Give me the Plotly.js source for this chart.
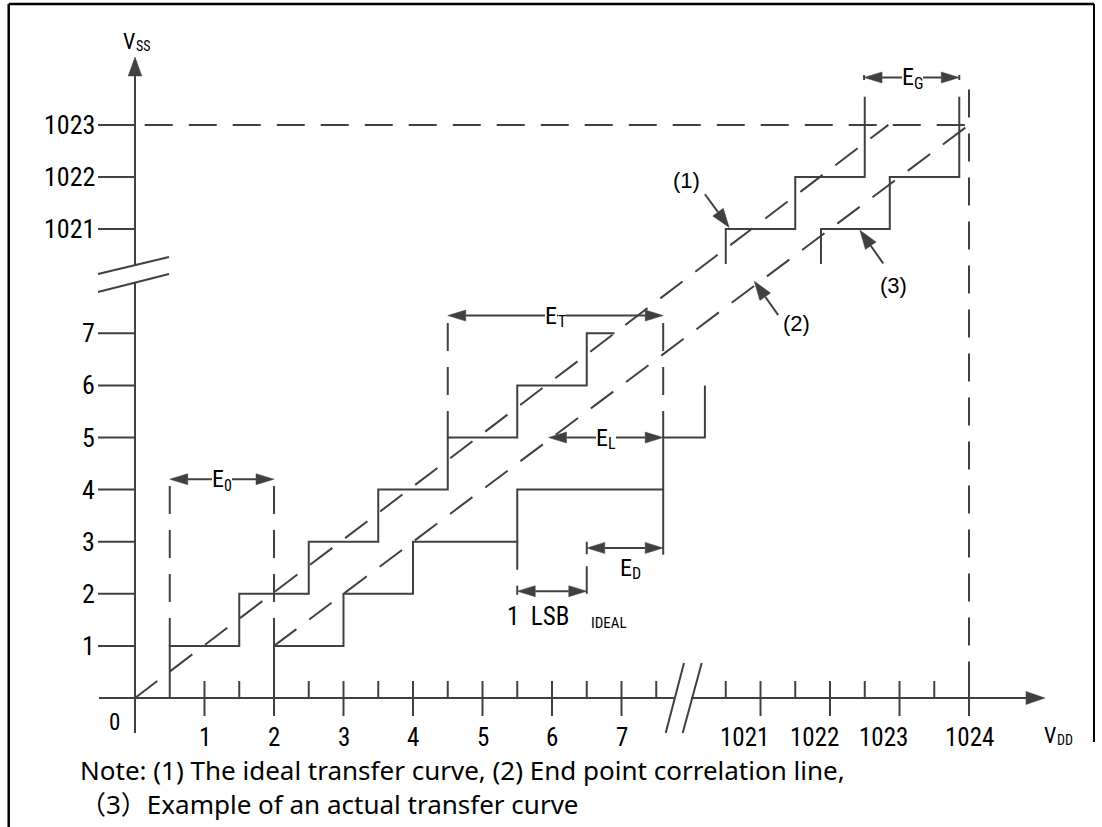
<!DOCTYPE html>
<html><head><meta charset="utf-8">
<script src="https://cdn.plot.ly/plotly-3.0.1.min.js"></script>
<style>html,body{margin:0;padding:0;background:#fff}#chart{width:1102px;height:827px}</style>
</head><body><div id="chart"></div>
<script>
// ---------------- data (ADC code units; values >= 1020 lie beyond the axis break) ----------------
const xTickValues = [1, 2, 3, 4, 5, 6, 7, 1021, 1022, 1023, 1024];
const xTickLabels = ['1', '2', '3', '4', '5', '6', '7', '1021', '1022', '1023', '1024'];
const xHalfTicks  = [1.5, 2.5, 3.5, 4.5, 5.5, 6.5, 7.5, 1020.5, 1021.5, 1022.5, 1023.5];
const yTickValues = [1, 2, 3, 4, 5, 6, 7, 1021, 1022, 1023];
const yTickLabels = ['1', '2', '3', '4', '5', '6', '7', '1021', '1022', '1023'];

// (1) ideal transfer curve
const idealStepX    = [0.5, 0.5, 1.5, 1.5, 2.5, 2.5, 3.5, 3.5, 4.5, 4.5, 5.5, 5.5, 6.5, 6.5, 6.9];
const idealStepY    = [0, 1, 1, 2, 2, 3, 3, 4, 4, 5, 5, 6, 6, 7, 7];
const idealStepTopX = [1020.5, 1020.5, 1021.5, 1021.5, 1022.5, 1022.5];
const idealStepTopY = [1020.33, 1021, 1021, 1022, 1022, 1023.54];
// (3) actual transfer curve
const actualStepX    = [2, 2, 3, 3, 4, 4, 5.5, 5.5, 7.6, 7.6, 8.2, 8.2];
const actualStepY    = [0, 1, 1, 2, 2, 3, 3, 4, 4, 5, 5, 6];
const actualStepTopX = [1021.87, 1021.87, 1022.86, 1022.86, 1023.86, 1023.86];
const actualStepTopY = [1020.33, 1021, 1021, 1022, 1022, 1023.54];
// dashed straight lines: ideal line and (2) end point correlation line
const idealLineX    = [0, 1022.84];
const idealLineY    = [0, 1023];
const endpointLineX = [2, 1024];
const endpointLineY = [1, 1023];

// error brackets
const errorMain  = ['E', 'E', 'E', 'E', 'E'];
const errorSub   = ['0', 'T', 'L', 'D', 'G'];
const errorFrom  = [0.5, 4.5, 5.95, 6.5, 1022.49];
const errorTo    = [2.0, 7.6, 7.6, 7.6, 1023.86];
const errorLevel = [4.2, 7.34, 5.0, 2.88, 1023.91];
// ideal LSB bracket
const lsbText  = '1\u00a0\u00a0LSB';
const lsbSub   = 'IDEAL';
const lsbFrom  = 5.5;
const lsbTo    = 6.5;
const lsbLevel = 2.05;

// pointer labels
const pointerLabels = ['(1)', '(2)', '(3)'];
const pointerTipX   = [1020.55, 1020.91, 1022.43];
const pointerTipY   = [1021.03, 1020.0, 1020.98];

const noteLines = ['Note: (1) The ideal transfer curve, (2) End point correlation line,',
                   '\uff083\uff09Example of an actual transfer curve'];

// ---------------- geometry helpers ----------------
const W = 1102, H = 827, ORX = 135, ORY = 698, XPX = 69.5, YPX = 52.1;
const pos = v => (v >= 100 ? v - 1012 : v);
const LINE = '#404040';
const LBL_FONT = '"Liberation Sans Narrow", "Arial Narrow", "Roboto Condensed", "DejaVu Sans Condensed", sans-serif';
const PTR_FONT = '"Liberation Sans", Arial, sans-serif';
const NOTE_FONT = '"Noto Sans", "Noto Sans CJK SC", sans-serif';
const px2x = p => p / XPX, px2y = p => p / YPX;

const solid = {x: [], y: []}, dashed = {x: [], y: []}, heads = {x: [], y: []};
function polyC(t, xs, ys) { xs.forEach((v, i) => { t.x.push(pos(v)); t.y.push(pos(ys[i])); }); t.x.push(null); t.y.push(null); }
function polyP(t, xs, ys) { xs.forEach((v, i) => { t.x.push(v); t.y.push(ys[i]); }); t.x.push(null); t.y.push(null); }
function head(tx, ty, fx, fy, len, hw) {
  const TX = tx * XPX, TY = ty * YPX, FX = fx * XPX, FY = fy * YPX;
  const d = Math.hypot(TX - FX, TY - FY), ux = (TX - FX) / d, uy = (TY - FY) / d;
  const bx = TX - ux * len, by = TY - uy * len, px = -uy, py = ux;
  heads.x.push(tx, (bx + px * hw) / XPX, (bx - px * hw) / XPX, tx, null);
  heads.y.push(ty, (by + py * hw) / YPX, (by - py * hw) / YPX, ty, null);
  return [bx / XPX, by / YPX];
}
const annotations = [];
function label(x, y, text, size, o) {
  annotations.push(Object.assign({x: x, y: y, text: text, showarrow: false, xanchor: 'center', yanchor: 'middle',
    borderpad: 0, borderwidth: 0, font: {family: LBL_FONT, size: size, color: '#000'}}, o || {}));
}
// main text right-aligned at xs, subscript left-aligned at xs and dropped
function subLabel(xs, y, main, sub, size, subSize, drop, bg, dy) {
  const extra = bg ? {bgcolor: '#ffffff'} : {};
  label(xs, y, main, size, Object.assign({xanchor: 'right', xshift: 0, yshift: dy || 0}, extra));
  label(xs, y, sub, subSize, Object.assign({xanchor: 'left', xshift: 0.5, yshift: (dy || 0) - drop}, extra));
}

// ---------------- axes ----------------
const xArrowTip = px2x(910), yArrowTip = px2y(641);
polyP(solid, [px2x(-36), px2x(539)], [0, 0]);
polyP(solid, [px2x(556), px2x(891)], [0, 0]);
head(xArrowTip, 0, 0, 0, 19, 6.5);
polyP(solid, [0, 0], [px2y(-35), px2y(416)]);
polyP(solid, [0, 0], [px2y(433), px2y(622)]);
head(0, yArrowTip, 0, 0, 19, 6.8);
// break marks
polyP(solid, [px2x(530.7), px2x(549)], [px2y(-35), px2y(35)]);
polyP(solid, [px2x(547.7), px2x(566.7)], [px2y(-35), px2y(35)]);
polyP(solid, [px2x(-37), px2x(34)], [px2y(406), px2y(424)]);
polyP(solid, [px2x(-37), px2x(34)], [px2y(424), px2y(441)]);
// ticks
xTickValues.forEach(v => polyP(solid, [pos(v), pos(v)], [px2y(-18), px2y(17)]));
xHalfTicks.forEach(v => polyP(solid, [pos(v), pos(v)], [0, px2y(17)]));
yTickValues.forEach(v => polyP(solid, [px2x(-37), 0], [pos(v), pos(v)]));

// ---------------- curves ----------------
polyC(solid, idealStepX, idealStepY);
polyC(solid, idealStepTopX, idealStepTopY);
polyC(solid, actualStepX, actualStepY);
polyC(solid, actualStepTopX, actualStepTopY);
polyC(dashed, idealLineX, idealLineY);
polyC(dashed, endpointLineX, endpointLineY);
// guide lines
polyC(dashed, [1024, 1024], [1023.68, 0]);
polyC(dashed, [0.14, 1024], [1023, 1023]);
polyC(dashed, [0.5, 0.5], [4.07, 1]);
polyC(dashed, [2, 2], [4.07, 1]);
polyC(dashed, [4.5, 4.5], [7.2, 5]);
polyC(dashed, [7.6, 7.6], [7.2, 5]);
polyC(dashed, [5.5, 5.5], [3, 1.98]);
polyC(solid, [7.6, 7.6], [4, 2.75]);
polyC(solid, [6.5, 6.5], [2.0, 2.53]);
polyC(solid, [6.5, 6.5], [2.76, 3.0]);

// ---------------- error brackets ----------------
errorMain.forEach((m, i) => {
  const a = pos(errorFrom[i]), b = pos(errorTo[i]), y = pos(errorLevel[i]);
  const ba = head(a, y, b, y, 18, 5.5), bb = head(b, y, a, y, 18, 5.5);
  polyP(solid, [ba[0], bb[0]], [y, y]);
  if (i === 4) {
    polyP(solid, [a, a], [y - px2y(2.5), y + px2y(2.5)]);
    polyP(solid, [b, b], [y - px2y(2.5), y + px2y(2.5)]);
  }
  const mid = (a + b) / 2;
  if (i === 3) {
    subLabel(mid + px2x(7), y, m, errorSub[i], 24, 16, 6, false, -20);
  } else {
    subLabel(mid + px2x(2), y, m, errorSub[i], 24, 16, 6, true);
  }
});
{
  const a = pos(lsbFrom), b = pos(lsbTo), y = pos(lsbLevel);
  const ba = head(a, y, b, y, 18, 5.5), bb = head(b, y, a, y, 18, 5.5);
  polyP(solid, [ba[0], bb[0]], [y, y]);
  label(a - px2x(10), y - px2y(25), lsbText, 25, {xanchor: 'left'});
  label(b + px2x(4), y - px2y(32), lsbSub, 15, {xanchor: 'left'});
}

// ---------------- pointer labels ----------------
const tailOff = [[-24.3, 33.3], [24, -34], [23.3, -33.3]];
const textOff = [[-42.6, 47.3], [42.4, -42], [33.3, -55]];
pointerLabels.forEach((lab, i) => {
  const tx = pos(pointerTipX[i]), ty = pos(pointerTipY[i]);
  const fx = tx + px2x(tailOff[i][0]), fy = ty + px2y(tailOff[i][1]);
  const b = head(tx, ty, fx, fy, 19, 6.5);
  polyP(solid, [fx, b[0]], [fy, b[1]]);
  label(tx + px2x(textOff[i][0]), ty + px2y(textOff[i][1]), lab, 22, {font: {family: PTR_FONT, size: 22, color: '#000'}});
});

// ---------------- tick labels ----------------
xTickValues.forEach((v, i) => {
  const shift = (v >= 1021 && v <= 1023) ? -16 : 0;
  label(pos(v), 0, xTickLabels[i], 25, {yshift: -39, xshift: shift});
});
yTickValues.forEach((v, i) => label(0, pos(v), yTickLabels[i], 26, {xanchor: 'right', xshift: -40}));
label(0, 0, '0', 23, {xshift: -21, yshift: -24});
subLabel(0, yArrowTip, 'V', 'SS', 22, 14, 5, false, 16);
subLabel(xArrowTip + px2x(11), 0, 'V', 'DD', 22, 14, 5, false, -37);

// ---------------- note (two lines in one text block) ----------------
annotations.push({xref: 'paper', yref: 'paper', x: 80 / W, y: 1 - 787 / H, text: noteLines.join('<br>'), showarrow: false,
  borderpad: 0, borderwidth: 0, align: 'left',
  font: {family: NOTE_FONT, size: 26, color: '#000'}, xanchor: 'left', yanchor: 'middle'});

const traces = [
  {type: 'scatter', mode: 'lines', x: solid.x, y: solid.y, line: {color: LINE, width: 2}, hoverinfo: 'skip', connectgaps: false},
  {type: 'scatter', mode: 'lines', x: dashed.x, y: dashed.y, line: {color: LINE, width: 2, dash: '28px,16px'}, hoverinfo: 'skip', connectgaps: false},
  {type: 'scatter', mode: 'lines', x: heads.x, y: heads.y, fill: 'toself', fillcolor: LINE, line: {color: LINE, width: 0.5}, hoverinfo: 'skip', connectgaps: false}
];

const layout = {
  width: W, height: H, margin: {l: 0, r: 0, t: 0, b: 0}, showlegend: false,
  paper_bgcolor: '#fff', plot_bgcolor: '#fff',
  xaxis: {range: [-ORX / XPX, (W - ORX) / XPX], visible: false, fixedrange: true},
  yaxis: {range: [-(H - ORY) / YPX, ORY / YPX], visible: false, fixedrange: true},
  annotations: annotations,
  shapes: [
    {type: 'line', xref: 'paper', yref: 'paper', x0: 8.7 / W, x1: 1094 / W, y0: 1 - 4 / H, y1: 1 - 4 / H, line: {color: '#000', width: 2.5}},
    {type: 'line', xref: 'paper', yref: 'paper', x0: 8.7 / W, x1: 8.7 / W, y0: 1 - 4 / H, y1: 0, line: {color: '#000', width: 2.5}},
    {type: 'line', xref: 'paper', yref: 'paper', x0: 1094 / W, x1: 1094 / W, y0: 1 - 4 / H, y1: 1 - 742 / H, line: {color: '#000', width: 2}}
  ]
};
Plotly.newPlot('chart', traces, layout, {displayModeBar: false, staticPlot: true});
</script></body></html>
